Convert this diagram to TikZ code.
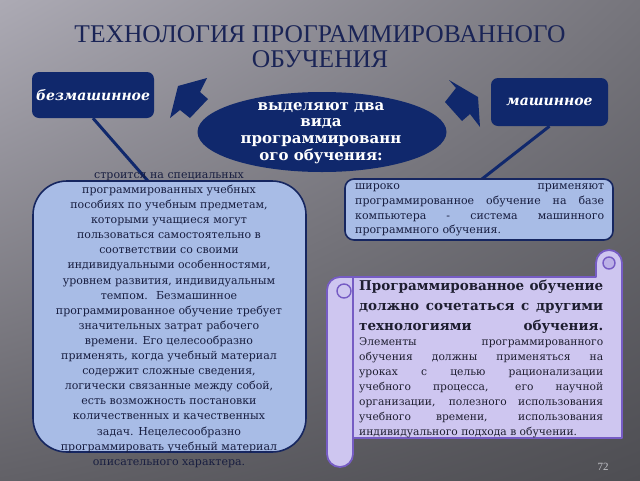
\documentclass[tikz,border=0pt]{standalone}
\usepackage{fontspec}
\setmainfont{DejaVu Serif}
\newfontfamily\titlefont{Liberation Serif}
\usetikzlibrary{shapes.geometric,shadings}
\definecolor{navy}{RGB}{16,40,108}
\definecolor{titlecol}{RGB}{26,36,86}
\definecolor{boxfill}{RGB}{168,188,230}
\definecolor{boxline}{RGB}{22,38,96}
\definecolor{bodytext}{RGB}{24,30,64}
\definecolor{lav}{RGB}{206,198,240}
\definecolor{purp}{RGB}{118,92,196}
\definecolor{scrolltext}{RGB}{30,30,48}
\definecolor{bgA}{RGB}{172,170,180}
\definecolor{bgB}{RGB}{118,117,124}
\definecolor{bgC}{RGB}{98,97,103}
\definecolor{bgD}{RGB}{78,78,83}
\definecolor{pagenum}{RGB}{196,196,202}
\newcommand\jl[2]{\makebox[#1][s]{#2}}
\begin{document}
\begin{tikzpicture}[x=1pt,y=-1pt,
  darkbox/.style={fill=navy, rounded corners=7, text=white, inner sep=0,
    font=\bfseries\itshape\fontsize{14}{17}\selectfont},
  lightbox/.style={fill=boxfill, draw=boxline, line width=1.6, inner sep=0},
  conn/.style={draw=navy, line width=3},
  blockarrow/.style={fill=navy},
  scrollshape/.style={fill=lav, draw=purp, line width=1.8, line join=round},
  bodyfont/.style={text=bodytext, inner sep=0, font=\fontsize{11}{15.1}\selectfont},
  titletext/.style={text=titlecol, inner sep=0, font=\titlefont\fontsize{25.5}{25.5}\selectfont},
]
\useasboundingbox (0,0) rectangle (640,480);
\shade[upper left=bgA, upper right=bgB, lower left=bgC, lower right=bgD] (0,0) rectangle (640,480);

% title
\node[titletext] (title1) at (320,34.5) {ТЕХНОЛОГИЯ ПРОГРАММИРОВАННОГО};
\node[titletext] (title2) at (320,59.5) {ОБУЧЕНИЯ};

% label boxes
\node[darkbox, minimum width=122, minimum height=46] (bez) at (93,95) {безмашинное};
\node[darkbox, minimum width=117, minimum height=48] (mash) at (549.5,102) {машинное};

% connectors
\coordinate (lend) at (148,181);
\coordinate (rend) at (482,179);
\draw[conn] (bez.south) -- (lend);
\draw[conn] (mash.south) -- (rend);

% block arrows
\fill[blockarrow] (170,118) -- (178,86) -- (207,78) -- (200,92) -- (208,99) -- (190,118) -- (180,110) -- cycle;
\fill[blockarrow] (449,80) -- (456,88) -- (445,102) -- (462,121) -- (470,114) -- (480,127) -- (478,97) -- cycle;

% central ellipse
\node[ellipse, fill=navy, minimum width=249, minimum height=80, inner sep=0] (ell) at (322,132) {};
\node[text=white, align=center, inner sep=0,
  font=\bfseries\fontsize{15}{16.7}\selectfont] (elltext) at (321,133)
  {выделяют два\\вида\\программированн\\ого обучения:};

% left text box
\node[lightbox, rounded corners=34, minimum width=273, minimum height=271] (leftbox) at (169.5,316.5) {};
\node[bodyfont, align=center] (lefttext) at (169,320)
  {строится на специальных\\
   программированных учебных\\
   пособиях по учебным предметам,\\
   которыми учащиеся могут\\
   пользоваться самостоятельно в\\
   соответствии со своими\\
   индивидуальными особенностями,\\
   уровнем развития, индивидуальным\\
   темпом.~ Безмашинное\\
   программированное обучение требует\\
   значительных затрат рабочего\\
   времени. Его целесообразно\\
   применять, когда учебный материал\\
   содержит сложные сведения,\\
   логически связанные между собой,\\
   есть возможность постановки\\
   количественных и качественных\\
   задач. Нецелесообразно\\
   программировать учебный материал\\
   описательного характера.};

% right top box
\node[lightbox, rounded corners=9, minimum width=268, minimum height=61] (rightbox) at (479,209.5) {};
\node[bodyfont, align=left, anchor=west, font=\fontsize{11}{14.7}\selectfont] (righttext) at (355,210)
  {\jl{249pt}{широко применяют}\\
   \jl{249pt}{программированное обучение на базе}\\
   \jl{249pt}{компьютера - система машинного}\\
   программного обучения.};

% scroll
\filldraw[scrollshape] (353,277) -- (596,277) {[rounded corners=12.9] -- (596,250) -- (622,250)} -- (622,438) -- (353,438) -- cycle;
\draw[purp, line width=1.4, fill=lav!80!purp] (609,263) circle[radius=6];
\filldraw[scrollshape] (353,277) {[rounded corners=12.9] -- (327,277) -- (327,467) -- (353,467)} -- cycle;
\draw[purp, line width=1.4] (344,291) circle[radius=7];
\node[text=scrolltext, inner sep=0, align=left, anchor=west,
  font=\bfseries\fontsize{13.5}{20}\selectfont] (scrollbig) at (359,307)
  {\jl{244pt}{Программированное обучение}\\
   \jl{244pt}{должно сочетаться с другими}\\
   \jl{244pt}{технологиями обучения.}};
\node[text=scrolltext, inner sep=0, align=left, anchor=west,
  font=\fontsize{10.7}{15}\selectfont] (scrollsmall) at (359,388)
  {\jl{244pt}{Элементы программированного}\\
   \jl{244pt}{обучения должны применяться на}\\
   \jl{244pt}{уроках с целью рационализации}\\
   \jl{244pt}{учебного процесса, его научной}\\
   \jl{244pt}{организации, полезного использования}\\
   \jl{244pt}{учебного времени, использования}\\
   индивидуального подхода в обучении.};

% page number
\node[text=pagenum, inner sep=0, font=\titlefont\fontsize{11}{13}\selectfont] (pnum) at (603,467) {72};
\end{tikzpicture}
\end{document}
